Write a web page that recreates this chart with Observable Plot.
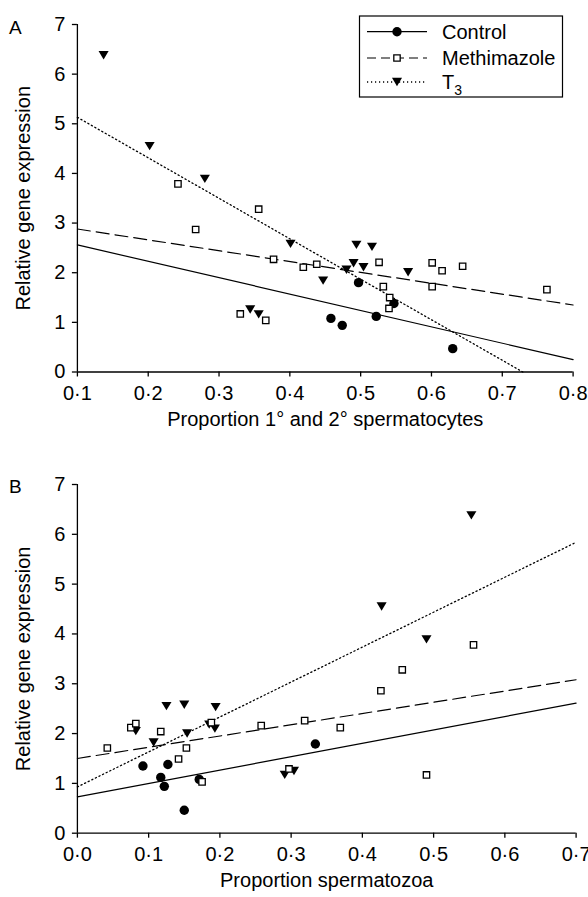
<!DOCTYPE html>
<html><head><meta charset="utf-8">
<script src="https://cdn.jsdelivr.net/npm/d3@7"></script>
<script src="https://cdn.jsdelivr.net/npm/@observablehq/plot@0.6"></script>
<style>
body{margin:0;background:#fff;font-family:"Liberation Sans",Arial,sans-serif;}
#wrap{position:relative;width:588px;height:897px;overflow:hidden;}
#wrap > svg{display:block;}
#overlay{position:absolute;left:0;top:0;pointer-events:none;}
</style></head><body><div id="wrap"></div>
<script>
// ---------- data ----------
const series = ["Control", "Methimazole", "T3"];
const yTicks = [0, 1, 2, 3, 4, 5, 6, 7];
const xTicksA = [0.1, 0.2, 0.3, 0.4, 0.5, 0.6, 0.7, 0.8];
const xTicksB = [0.0, 0.1, 0.2, 0.3, 0.4, 0.5, 0.6, 0.7];
const xLabelA = "Proportion 1\u00b0 and 2\u00b0 spermatocytes";
const xLabelB = "Proportion spermatozoa";
const yLabel = "Relative gene expression";

// Panel A
const controlA_x = [0.458, 0.474, 0.497, 0.522, 0.547, 0.630];
const controlA_y = [1.08, 0.94, 1.80, 1.12, 1.38, 0.47];
const methA_x = [0.242, 0.267, 0.330, 0.356, 0.366, 0.377, 0.419, 0.438, 0.526, 0.532, 0.540, 0.541, 0.601, 0.601, 0.615, 0.644, 0.763];
const methA_y = [3.79, 2.87, 1.17, 3.28, 1.04, 2.27, 2.11, 2.17, 2.21, 1.72, 1.28, 1.50, 2.20, 1.72, 2.04, 2.13, 1.66];
const t3A_x = [0.137, 0.202, 0.280, 0.344, 0.356, 0.401, 0.447, 0.480, 0.490, 0.494, 0.504, 0.516, 0.567];
const t3A_y = [6.38, 4.55, 3.89, 1.26, 1.16, 2.58, 1.84, 2.06, 2.19, 2.56, 2.11, 2.52, 2.01];
// fitted lines (end points)
const controlFitA_x = [0.1, 0.8], controlFitA_y = [2.56, 0.25];
const methFitA_x = [0.1, 0.8], methFitA_y = [2.88, 1.35];
const t3FitA_x = [0.1, 0.729], t3FitA_y = [5.13, 0.0];

// Panel B
const controlB_x = [0.092, 0.117, 0.122, 0.127, 0.150, 0.171, 0.334];
const controlB_y = [1.35, 1.12, 0.94, 1.38, 0.46, 1.08, 1.79];
const methB_x = [0.042, 0.075, 0.082, 0.117, 0.142, 0.153, 0.175, 0.188, 0.258, 0.297, 0.319, 0.369, 0.426, 0.456, 0.490, 0.556];
const methB_y = [1.71, 2.12, 2.20, 2.04, 1.49, 1.71, 1.03, 2.22, 2.16, 1.29, 2.26, 2.12, 2.86, 3.28, 1.17, 3.78];
const t3B_x = [0.082, 0.107, 0.125, 0.150, 0.154, 0.185, 0.193, 0.194, 0.291, 0.304, 0.427, 0.490, 0.553];
const t3B_y = [2.05, 1.82, 2.55, 2.58, 2.00, 2.18, 2.10, 2.53, 1.17, 1.25, 4.55, 3.89, 6.38];
const controlFitB_x = [0.0, 0.7], controlFitB_y = [0.73, 2.61];
const methFitB_x = [0.0, 0.7], methFitB_y = [1.50, 3.08];
const t3FitB_x = [0.0, 0.7], t3FitB_y = [0.93, 5.84];

// ---------- helpers ----------
const pts = (xs, ys) => xs.map((x, i) => ({x, y: ys[i]}));
const fmt = d => d3.format(".1f")(d).replace(".", "\u00b7");
const triDown = {
  draw(ctx, size) {
    const r = Math.sqrt(size / Math.PI);
    const hw = 1.2 * r, hh = r;
    ctx.moveTo(-hw, -hh); ctx.lineTo(hw, -hh); ctx.lineTo(0, hh); ctx.closePath();
  }
};
const styles = {
  Control: {dash: null, symbol: "circle", r: 4.7, fill: "black", stroke: "none"},
  Methimazole: {dash: "13,6", symbol: "square", r: 3.6, fill: "white", stroke: "black"},
  T3: {dash: "1.2,2.8", symbol: triDown, r: 4.2, fill: "black", stroke: "none"}
};
const FONT = "'Liberation Sans', Arial, Helvetica, sans-serif";

function panel(o) {
  const lineMark = (xs, ys, s) => Plot.line(pts(xs, ys), {x: "x", y: "y", stroke: "black", strokeWidth: s === "T3" ? 1.3 : 1.2, strokeDasharray: styles[s].dash});
  const dotMark = (xs, ys, s) => Plot.dot(pts(xs, ys), {x: "x", y: "y", symbol: styles[s].symbol, r: styles[s].r, fill: styles[s].fill, stroke: styles[s].stroke, strokeWidth: 1.3});
  return Plot.plot({
    width: 588, height: o.height,
    marginLeft: 76.9, marginRight: o.marginRight, marginTop: o.marginTop, marginBottom: o.marginBottom,
    style: {fontFamily: FONT, fontSize: "20px", color: "black", background: "white", overflow: "visible"},
    x: {domain: o.xDomain},
    y: {domain: [0, 7]},
    marks: [
      Plot.axisX({ticks: o.xTicks, tickFormat: fmt, tickSize: 5, tickPadding: 9, label: o.xLabel, labelAnchor: "center", labelOffset: 54, labelArrow: "none", strokeWidth: 1.3}),
      Plot.axisY({ticks: yTicks, tickFormat: d3.format("d"), tickSize: 5, tickPadding: 7, label: yLabel, labelAnchor: "center", labelOffset: 62, labelArrow: "none", strokeWidth: 1.3}),
      Plot.ruleY([0], {strokeWidth: 1.3}),
      Plot.ruleX([o.xDomain[0]], {strokeWidth: 1.3}),
      lineMark(o.cf[0], o.cf[1], "Control"),
      lineMark(o.mf[0], o.mf[1], "Methimazole"),
      lineMark(o.tf[0], o.tf[1], "T3"),
      dotMark(o.c[0], o.c[1], "Control"),
      dotMark(o.t[0], o.t[1], "T3"),
      dotMark(o.m[0], o.m[1], "Methimazole")
    ]
  });
}

const wrap = document.getElementById("wrap");
wrap.append(panel({
  height: 440, marginTop: 24, marginBottom: 68.5, marginRight: 15.4,
  xDomain: [0.1, 0.8], xTicks: xTicksA, xLabel: xLabelA,
  c: [controlA_x, controlA_y], m: [methA_x, methA_y], t: [t3A_x, t3A_y],
  cf: [controlFitA_x, controlFitA_y], mf: [methFitA_x, methFitA_y], tf: [t3FitA_x, t3FitA_y]
}));
wrap.append(panel({
  height: 457, marginTop: 44, marginBottom: 64.3, marginRight: 12.4,
  xDomain: [0.0, 0.7], xTicks: xTicksB, xLabel: xLabelB,
  c: [controlB_x, controlB_y], m: [methB_x, methB_y], t: [t3B_x, t3B_y],
  cf: [controlFitB_x, controlFitB_y], mf: [methFitB_x, methFitB_y], tf: [t3FitB_x, t3FitB_y]
}));

// ---------- overlay: panel letters and legend ----------
const ov = d3.select(wrap).append("svg").attr("id", "overlay")
  .attr("width", 588).attr("height", 897)
  .style("font-family", FONT);
ov.append("text").attr("x", 9).attr("y", 34).attr("font-size", 19).text("A");
ov.append("text").attr("x", 9).attr("y", 493).attr("font-size", 19).text("B");

const lg = ov.append("g").attr("transform", "translate(359.5,16)");
lg.append("rect").attr("width", 203).attr("height", 81).attr("fill", "white").attr("stroke", "black").attr("stroke-width", 1.2);
const rowY = [15.7, 42, 66];
series.forEach((s, i) => {
  const st = styles[s];
  const g = lg.append("g").attr("transform", `translate(0,${rowY[i]})`);
  g.append("line").attr("x1", 7.5).attr("x2", 67.5).attr("y1", 0).attr("y2", 0)
    .attr("stroke", "black").attr("stroke-width", s === "T3" ? 1.3 : 1.2)
    .attr("stroke-dasharray", st.dash === "13,6" ? "9,5" : st.dash);
  const sym = typeof st.symbol === "string" ? (st.symbol === "circle" ? d3.symbolCircle : d3.symbolSquare) : st.symbol;
  g.append("path").attr("transform", "translate(37.5,0)")
    .attr("d", d3.symbol(sym, Math.PI * st.r * st.r)())
    .attr("fill", st.fill).attr("stroke", st.stroke === "none" ? null : st.stroke).attr("stroke-width", 1.3);
  const t = g.append("text").attr("x", 82.5).attr("y", 7).attr("font-size", 20);
  if (s === "T3") {
    t.append("tspan").text("T");
    t.append("tspan").attr("font-size", 14).attr("dy", 6).text("3");
  } else t.text(s);
});
</script>
</body></html>
